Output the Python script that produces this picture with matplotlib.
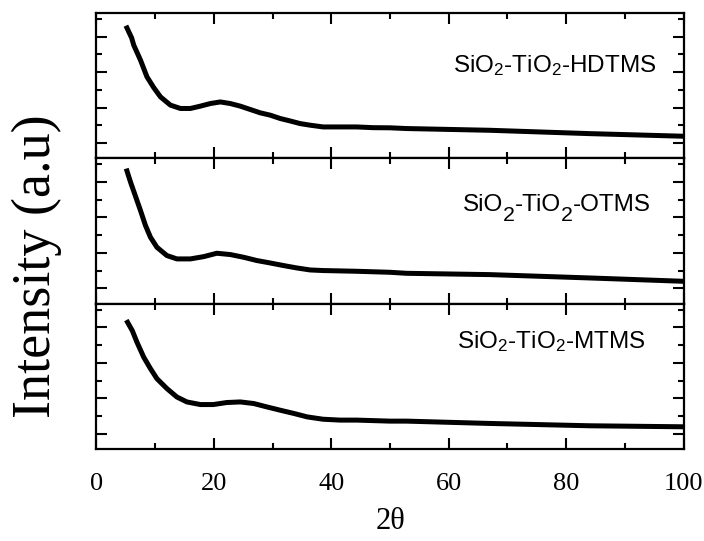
import matplotlib
matplotlib.use("Agg")
import matplotlib.pyplot as plt
from matplotlib.ticker import MultipleLocator, FixedLocator
import numpy as np

plt.rcParams['mathtext.fontset'] = 'custom'
plt.rcParams['mathtext.rm'] = 'Liberation Sans'
plt.rcParams['mathtext.it'] = 'Liberation Sans'

# 2theta / intensity (a.u., % of panel height)
x_hdtms = [5.2, 6.0, 6.35, 7.5, 8.6, 9.75, 10.9, 12.6, 14.3, 16.0, 17.7, 19.4, 21.1,
           22.8, 24.5, 26.2, 27.9, 29.6, 31.3, 33.0, 34.7, 36.4, 38.6, 41.5, 44.3,
           47.1, 50.0, 52.8, 67.0, 84.0, 100.0]
y_hdtms = [89.7, 82.8, 77.9, 67.6, 56.1, 48.7, 42.3, 36.6, 34.3, 34.3, 35.9, 37.7, 38.8,
           37.7, 35.9, 33.6, 31.3, 29.7, 27.4, 25.7, 23.9, 22.8, 21.6, 21.6, 21.6,
           21.1, 21.0, 20.5, 19.3, 17.0, 15.2]

x_otms = [5.2, 5.8, 6.6, 7.5, 8.35, 9.2, 10.3, 12.0, 13.7, 16.0, 18.3, 20.5, 22.8,
          25.1, 27.3, 29.6, 31.9, 34.1, 36.4, 38.6, 44.3, 50.0, 52.8, 67.0, 84.0, 100.0]
y_otms = [91.3, 83.7, 74.5, 64.1, 53.8, 45.7, 38.8, 33.1, 30.8, 30.8, 32.4, 34.7, 33.8,
          31.9, 29.7, 28.0, 26.2, 24.6, 23.2, 22.8, 22.3, 21.6, 20.9, 20.0, 17.7, 15.4]

x_mtms = [5.3, 6.1, 6.9, 8.05, 9.2, 10.3, 12.0, 13.7, 15.4, 17.7, 19.9, 22.2, 24.5,
          26.8, 29.0, 31.3, 33.6, 35.9, 38.6, 41.5, 44.3, 50.0, 52.8, 67.0, 84.0, 100.0]
y_mtms = [87.2, 81.5, 73.5, 63.2, 55.3, 48.4, 41.6, 35.8, 32.4, 30.6, 30.6, 32.0, 32.4,
          31.3, 29.0, 26.7, 24.5, 22.1, 20.5, 19.9, 19.9, 19.2, 19.2, 17.6, 16.0, 15.3]

fig, axes = plt.subplots(3, 1, figsize=(7.04, 5.41), dpi=100, sharex=True)
fig.subplots_adjust(left=0.137, right=0.971, top=0.976, bottom=0.170, hspace=0)

panels = [(x_hdtms, y_hdtms), (x_otms, y_otms), (x_mtms, y_mtms)]
for ax, (xs, ys) in zip(axes, panels):
    ax.plot(xs, ys, color='black', linewidth=3.6, solid_joinstyle='round')
    ax.set_xlim(0, 100)
    ax.set_ylim(0, 100)
    ax.xaxis.set_major_locator(MultipleLocator(20))
    ax.xaxis.set_minor_locator(MultipleLocator(10))
    ax.yaxis.set_major_locator(FixedLocator(np.arange(10.5, 100, 24.4)))
    ax.yaxis.set_minor_locator(FixedLocator(np.arange(22.7, 100, 24.4)))
    ax.tick_params(which='both', direction='in', top=True, right=True, width=1.5,
                   labelleft=False)
    ax.tick_params(which='major', length=8)
    ax.tick_params(which='minor', length=4.5)
    for s in ax.spines.values():
        s.set_linewidth(1.6)

for ax in axes[:-1]:
    ax.tick_params(labelbottom=False)

axes[-1].tick_params(axis='x', pad=17, labelsize=19, labelfontfamily='Liberation Serif')

# sample names
fs = 17.5
axes[0].text(0.607, 0.593, r'SiO$_2$-TiO$_2$-HDTMS', transform=axes[0].transAxes,
             fontsize=fs, family='Liberation Sans', va='baseline', ha='left')
axes[2].text(0.614, 0.692, r'SiO$_2$-TiO$_2$-MTMS', transform=axes[2].transAxes,
             fontsize=fs, family='Liberation Sans', va='baseline', ha='left')

# OTMS label has big subscripts
pieces = [('SiO', False), ('2', True), ('-TiO', False), ('2', True), ('-OTMS', False)]
first = axes[1].text(0.624, 0.641, pieces[0][0], transform=axes[1].transAxes,
                     fontsize=fs, family='Liberation Sans', va='baseline', ha='left')
prev = first
for txt, sub in pieces[1:]:
    prev = axes[1].annotate(txt, xy=(1, 0), xycoords=(prev, first),
                            xytext=(0, -7 if sub else 0), textcoords='offset points',
                            fontsize=fs * 0.88 if sub else fs, family='Liberation Sans',
                            va='bottom', ha='left')

fig.text(0.052, 0.508, 'Intensity (a.u)', rotation=90, fontsize=39,
         family='Liberation Serif', ha='center', va='center')
fig.text(0.554, 0.036, '2θ', fontsize=22, family='Liberation Serif',
         ha='center', va='center')

fig.savefig('out.png', dpi=100)
